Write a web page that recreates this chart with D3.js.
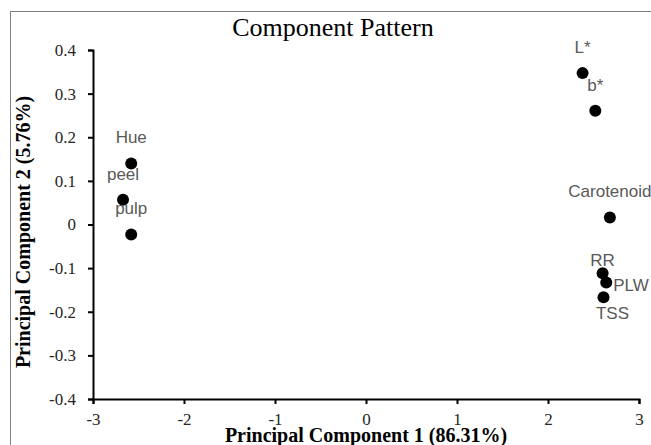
<!DOCTYPE html>
<html>
<head>
<meta charset="utf-8">
<script src="https://cdn.jsdelivr.net/npm/d3@7"></script>
<style>
  body { margin: 0; background: #fff; }
</style>
</head>
<body>
<div id="chart"></div>
<script>
const labels = ["L*", "b*", "Carotenoid", "RR", "PLW", "TSS", "Hue", "peel", "pulp"];
const pc1 = [2.38, 2.52, 2.68, 2.60, 2.64, 2.61, -2.58, -2.67, -2.58];
const pc2 = [0.347, 0.261, 0.016, -0.112, -0.133, -0.167, 0.140, 0.057, -0.023];
const xTicks = [-3, -2, -1, 0, 1, 2, 3];
const yTicks = [-0.4, -0.3, -0.2, -0.1, 0, 0.1, 0.2, 0.3, 0.4];

const width = 651, height = 445;
const margin = { top: 50, right: 12, bottom: 46, left: 93 };
const chartWidth = width - margin.left - margin.right;
const chartHeight = height - margin.top - margin.bottom;

// where each data label sits relative to its point (Excel-style placement)
const labelOffset = { RR: [0, -13], PLW: [7, 3], TSS: [9, 16] };
const defaultOffset = [0, -26];

const svg = d3.select("#chart").append("svg")
  .attr("width", width)
  .attr("height", height);

svg.append("rect")
  .attr("x", 10.5).attr("y", 11.5)
  .attr("width", 700).attr("height", 500)
  .attr("fill", "none")
  .attr("stroke", "#7f7f7f")
  .attr("stroke-width", 1);

svg.append("text")
  .attr("x", 333).attr("y", 36)
  .attr("text-anchor", "middle")
  .style("font-family", "'Liberation Serif', 'Times New Roman', serif")
  .style("font-size", "26px")
  .attr("fill", "#000")
  .text("Component Pattern");

const g = svg.append("g").attr("transform", `translate(${margin.left},${margin.top})`);

const x = d3.scaleLinear().domain([-3, 3]).range([0, chartWidth]);
const y = d3.scaleLinear().domain([-0.4, 0.4]).range([chartHeight, 0]);

const xAxis = g.append("g")
  .attr("transform", `translate(0,${chartHeight})`)
  .call(d3.axisBottom(x).tickValues(xTicks).tickSize(5).tickSizeOuter(5).tickPadding(9)
    .tickFormat(d => String(d)));

const yAxis = g.append("g")
  .call(d3.axisLeft(y).tickValues(yTicks).tickSize(5).tickSizeOuter(5).tickPadding(12)
    .tickFormat(d => d === 0 ? "0" : d.toFixed(1)));

[xAxis, yAxis].forEach(ax => {
  ax.select(".domain").attr("stroke", "#000").attr("stroke-width", 2);
  ax.selectAll(".tick line").attr("stroke", "#000").attr("stroke-width", 2);
  ax.selectAll(".tick text")
    .style("font-family", "'Liberation Serif', 'Times New Roman', serif")
    .style("font-size", "17px")
    .attr("fill", "#262626");
});

const points = labels.map((name, i) => ({ name, x: pc1[i], y: pc2[i] }));

g.selectAll(".dot")
  .data(points)
  .enter().append("circle")
  .attr("class", "dot")
  .attr("cx", d => x(d.x))
  .attr("cy", d => y(d.y))
  .attr("r", 6)
  .attr("fill", "#000");

g.selectAll(".lbl")
  .data(points)
  .enter().append("text")
  .attr("class", "lbl")
  .attr("x", d => x(d.x) + (labelOffset[d.name] || defaultOffset)[0])
  .attr("y", d => y(d.y) + (labelOffset[d.name] || defaultOffset)[1])
  .attr("dy", "0.35em")
  .attr("text-anchor", d => d.name === "PLW" ? "start" : "middle")
  .style("font-family", "'Liberation Sans', Arial, sans-serif")
  .style("font-size", "17px")
  .attr("fill", "#595959")
  .text(d => d.name);

svg.append("text")
  .attr("x", margin.left + chartWidth / 2)
  .attr("y", 442)
  .attr("text-anchor", "middle")
  .style("font-family", "'Liberation Serif', 'Times New Roman', serif")
  .style("font-size", "20px")
  .style("font-weight", "bold")
  .attr("fill", "#000")
  .text("Principal Component 1 (86.31%)");

svg.append("text")
  .attr("transform", `translate(30,232) rotate(-90)`)
  .attr("text-anchor", "middle")
  .style("font-family", "'Liberation Serif', 'Times New Roman', serif")
  .style("font-size", "20px")
  .style("font-weight", "bold")
  .attr("fill", "#000")
  .text("Principal Component 2 (5.76%)");
</script>
</body>
</html>
